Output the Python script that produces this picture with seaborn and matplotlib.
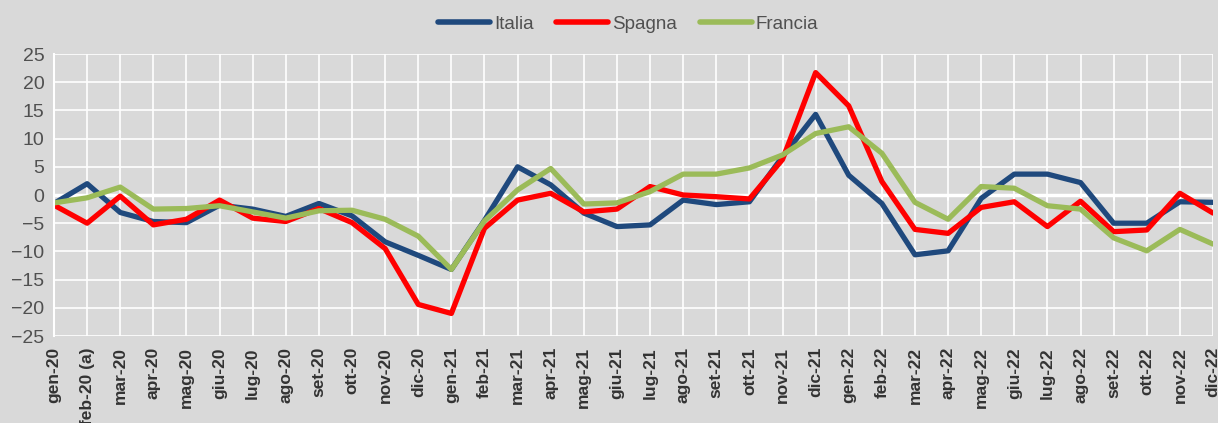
import numpy as np
import pandas as pd
import seaborn as sns
import matplotlib.pyplot as plt
from matplotlib import font_manager

months = ["gen-20", "feb-20 (a)", "mar-20", "apr-20", "mag-20", "giu-20", "lug-20", "ago-20",
          "set-20", "ott-20", "nov-20", "dic-20",
          "gen-21", "feb-21", "mar-21", "apr-21", "mag-21", "giu-21", "lug-21", "ago-21",
          "set-21", "ott-21", "nov-21", "dic-21",
          "gen-22", "feb-22", "mar-22", "apr-22", "mag-22", "giu-22", "lug-22", "ago-22",
          "set-22", "ott-22", "nov-22", "dic-22"]

italia = [-1.5, 2.0, -3.1, -4.7, -4.9, -1.8, -2.5, -3.8, -1.5, -3.7, -8.3, -10.7,
          -13.2, -4.5, 5.0, 1.8, -3.2, -5.6, -5.3, -0.9, -1.7, -1.2, 6.8, 14.3,
          3.5, -1.5, -10.6, -9.9, -0.6, 3.7, 3.7, 2.2, -5.0, -5.0, -1.2, -1.3]
spagna = [-1.8, -5.0, -0.2, -5.3, -4.3, -0.9, -4.1, -4.7, -2.4, -4.9, -9.5, -19.4,
          -21.0, -5.9, -0.9, 0.3, -3.0, -2.5, 1.5, 0.0, -0.3, -0.7, 6.3, 21.7,
          15.8, 2.4, -6.1, -6.8, -2.2, -1.2, -5.6, -1.1, -6.5, -6.2, 0.3, -3.2]
francia = [-1.4, -0.5, 1.4, -2.5, -2.4, -1.9, -3.0, -4.1, -2.8, -2.7, -4.3, -7.3,
           -13.2, -4.6, 0.9, 4.7, -1.6, -1.4, 0.6, 3.7, 3.7, 4.8, 7.1, 10.9,
           12.1, 7.4, -1.3, -4.3, 1.5, 1.2, -1.9, -2.5, -7.6, -9.9, -6.1, -8.7]

series = {"Italia": italia, "Spagna": spagna, "Francia": francia}
colors = {"Italia": "#1F497D", "Spagna": "#FF0000", "Francia": "#9BBB59"}

df = pd.concat([pd.DataFrame({"pos": np.arange(len(months)), "value": v, "paese": k})
                for k, v in series.items()], ignore_index=True)

sns.set_style("white")
names = {f.name for f in font_manager.fontManager.ttflist}
narrow = "Liberation Sans Narrow" if "Liberation Sans Narrow" in names else "Liberation Sans"
plt.rcParams["font.family"] = [narrow, "DejaVu Sans"]

fig = plt.figure(figsize=(12.18, 4.23), dpi=100, facecolor="#D9D9D9")
ax = fig.add_axes([54 / 1218, 1 - 336 / 423, (1213 - 54) / 1218, (336 - 54) / 423])
ax.set_facecolor("#D9D9D9")

sns.lineplot(data=df, x="pos", y="value", hue="paese", palette=colors, linewidth=3.8,
             ax=ax, legend=False)

ax.set_xlim(0, len(months) - 1)
ax.set_ylim(-25, 25)
ax.set_yticks(np.arange(-25, 26, 5))
ax.set_xticks(np.arange(len(months)))
ax.set_xticklabels(months, rotation=90, fontsize=12.5, fontweight="bold", color="#333333",
                   va="top", ha="center")
ax.tick_params(axis="y", labelsize=14, labelcolor="#505050", length=5, color="white",
               width=1.5, pad=2)
ax.tick_params(axis="x", length=0, pad=8)
ax.grid(True, color="white", linewidth=1.2)
ax.set_axisbelow(True)
for s in ["top", "right", "bottom"]:
    ax.spines[s].set_visible(False)
ax.spines["left"].set_color("white")
ax.spines["left"].set_linewidth(1.5)
ax.axhline(0, color="white", linewidth=2.5, zorder=1.5)
for p in range(len(months)):
    ax.plot([p, p], [0, -0.9], color="white", linewidth=1.5, zorder=1.5)
ax.set_xlabel("")
ax.set_ylabel("")

handles = [plt.Line2D([], [], color=colors[k], linewidth=4, solid_capstyle="round") for k in series]
fig.legend(handles, list(series), loc="center", bbox_to_anchor=(628 / 1218, 1 - 24 / 423), ncol=3,
           frameon=False, fontsize=13.5, handlelength=2.8, handletextpad=0.2, columnspacing=1.2,
           labelcolor="#505050")

fig.savefig("out.png", dpi=100, facecolor=fig.get_facecolor())
